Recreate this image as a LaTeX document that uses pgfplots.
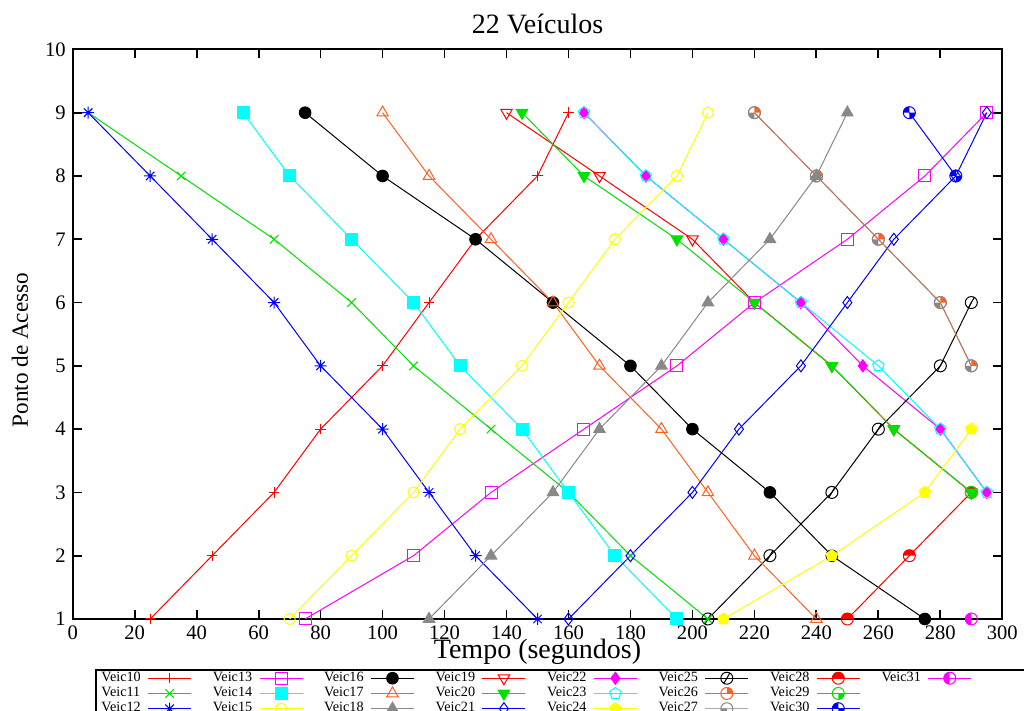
\documentclass[border=0pt]{standalone}
\usepackage{fontspec}
\setmainfont{Liberation Serif}
\usepackage{pgfplots}
\pgfplotsset{compat=1.18}

\definecolor{gpred}{RGB}{255,0,0}
\definecolor{gpgreen}{RGB}{0,225,0}
\definecolor{gpblue}{RGB}{0,0,255}
\definecolor{gpmagenta}{RGB}{255,0,255}
\definecolor{gpcyan}{RGB}{0,255,255}
\definecolor{gpyellow}{RGB}{255,255,0}
\definecolor{gporange}{RGB}{255,96,32}
\definecolor{gpgray}{RGB}{136,136,136}

\pgfdeclareplotmark{plusx}{%
  \pgfpathmoveto{\pgfqpoint{-\pgfplotmarksize}{0pt}}\pgfpathlineto{\pgfqpoint{\pgfplotmarksize}{0pt}}%
  \pgfpathmoveto{\pgfqpoint{0pt}{-\pgfplotmarksize}}\pgfpathlineto{\pgfqpoint{0pt}{\pgfplotmarksize}}%
  \pgfpathmoveto{\pgfqpoint{-.707\pgfplotmarksize}{-.707\pgfplotmarksize}}\pgfpathlineto{\pgfqpoint{.707\pgfplotmarksize}{.707\pgfplotmarksize}}%
  \pgfpathmoveto{\pgfqpoint{-.707\pgfplotmarksize}{.707\pgfplotmarksize}}\pgfpathlineto{\pgfqpoint{.707\pgfplotmarksize}{-.707\pgfplotmarksize}}%
  \pgfusepathqstroke}
\pgfdeclareplotmark{cslash}{%
  \pgfpathcircle{\pgfpointorigin}{\pgfplotmarksize}%
  \pgfpathmoveto{\pgfqpoint{-.5\pgfplotmarksize}{-.866\pgfplotmarksize}}\pgfpathlineto{\pgfqpoint{.5\pgfplotmarksize}{.866\pgfplotmarksize}}%
  \pgfusepathqstroke}
\pgfdeclareplotmark{cqtr}{% top-right quarter filled
  \pgfpathmoveto{\pgfpointorigin}\pgfpathlineto{\pgfqpoint{\pgfplotmarksize}{0pt}}%
  \pgfpatharc{0}{90}{\pgfplotmarksize}\pgfpathclose\pgfusepathqfill
  \pgfpathcircle{\pgfpointorigin}{\pgfplotmarksize}\pgfusepathqstroke}
\pgfdeclareplotmark{cqbl}{% bottom-left quarter filled
  \pgfpathmoveto{\pgfpointorigin}\pgfpathlineto{\pgfqpoint{-\pgfplotmarksize}{0pt}}%
  \pgfpatharc{180}{270}{\pgfplotmarksize}\pgfpathclose\pgfusepathqfill
  \pgfpathcircle{\pgfpointorigin}{\pgfplotmarksize}\pgfusepathqstroke}
\pgfdeclareplotmark{cqbr}{% bottom-right quarter filled
  \pgfpathmoveto{\pgfpointorigin}\pgfpathlineto{\pgfqpoint{0pt}{-\pgfplotmarksize}}%
  \pgfpatharc{270}{360}{\pgfplotmarksize}\pgfpathclose\pgfusepathqfill
  \pgfpathcircle{\pgfpointorigin}{\pgfplotmarksize}\pgfusepathqstroke}
\pgfdeclareplotmark{ctop}{% top half filled
  \pgfpathmoveto{\pgfqpoint{\pgfplotmarksize}{0pt}}%
  \pgfpatharc{0}{180}{\pgfplotmarksize}\pgfpathclose\pgfusepathqfill
  \pgfpathcircle{\pgfpointorigin}{\pgfplotmarksize}\pgfusepathqstroke}
\pgfdeclareplotmark{cleft}{% left half filled
  \pgfpathmoveto{\pgfqpoint{0pt}{\pgfplotmarksize}}%
  \pgfpatharc{90}{270}{\pgfplotmarksize}\pgfpathclose\pgfusepathqfill
  \pgfpathcircle{\pgfpointorigin}{\pgfplotmarksize}\pgfusepathqstroke}
\pgfdeclareplotmark{ctwo}{% top-left and bottom-right quarters filled
  \pgfpathmoveto{\pgfpointorigin}\pgfpathlineto{\pgfqpoint{0pt}{\pgfplotmarksize}}%
  \pgfpatharc{90}{180}{\pgfplotmarksize}\pgfpathclose
  \pgfpathmoveto{\pgfpointorigin}\pgfpathlineto{\pgfqpoint{0pt}{-\pgfplotmarksize}}%
  \pgfpatharc{270}{360}{\pgfplotmarksize}\pgfpathclose\pgfusepathqfill
  \pgfpathcircle{\pgfpointorigin}{\pgfplotmarksize}\pgfusepathqstroke}

\begin{document}
\begin{tikzpicture}
\begin{axis}[
  scale only axis, width=464.8pt, height=284.8pt,
  xmin=0, xmax=300, ymin=1, ymax=10,
  xtick={0,20,...,300}, ytick={1,2,...,10},
  tick align=inside, major tick length=4.5pt,
  axis line style={line width=1pt},
  every tick/.style={black, line width=0.9pt},
  tick label style={font=\fontsize{10.3}{12}\selectfont},
  /pgf/number format/assume math mode=true,
  title={22 Veículos},
  every axis title shift=0pt,
  title style={at={(axis description cs:0.5,1.0288)}, anchor=base, font=\fontsize{14}{16}\selectfont},
  xlabel={Tempo (segundos)},
  xlabel style={at={(axis description cs:0.5,-0.0695)}, anchor=base, font=\fontsize{14}{16}\selectfont},
  ylabel={Ponto de Acesso},
  ylabel style={at={(axis description cs:-0.0481,0.472)}, anchor=base, rotate=0, font=\fontsize{11.6}{14}\selectfont},
  every axis plot/.append style={line width=0.5pt, mark size=3pt, mark options={solid}},
  legend columns=8, legend cell align=left, legend plot pos=right,
  legend style={at={(axis description cs:0.0235,-0.0878)}, anchor=north west,
     draw=black, line width=1pt, inner sep=0.5pt, row sep=0.4pt,
     nodes={inner xsep=2.4pt, inner ysep=0.5pt},
     font=\fontsize{7.1}{8}\selectfont,
     /tikz/every even column/.append style={column sep=8.2pt},
     /tikz/every odd column/.append style={column sep=1pt}},
  legend image code/.code={\draw[line width=0.5pt, mark repeat=2, mark phase=2] plot coordinates {(0cm,0cm) (0.378cm,0cm) (0.756cm,0cm)};},
]
% Veic10
\addplot[gpred, mark=+, mark size=2.6pt] coordinates {(25,1)(45,2)(65,3)(80,4)(100,5)(115,6)(130,7)(150,8)(160,9)};
\addlegendentry{Veic10}
% Veic13
\addplot[gpmagenta, mark=square] coordinates {(75,1)(110,2)(135,3)(165,4)(195,5)(220,6)(250,7)(275,8)(295,9)};
\addlegendentry{Veic13}
% Veic16
\addplot[black, mark=*, mark size=2.9pt] coordinates {(75,9)(100,8)(130,7)(155,6)(180,5)(200,4)(225,3)(245,2)(275,1)};
\addlegendentry{Veic16}
% Veic19
\addplot[gpred, mark=triangle, mark size=3.3pt, mark options={rotate=180}] coordinates {(140,9)(170,8)(200,7)(220,6)(245,5)(265,4)(290,3)};
\addlegendentry{Veic19}
% Veic22
\addplot[gpmagenta, mark=diamond*, mark size=3pt] coordinates {(165,9)(185,8)(210,7)(235,6)(255,5)(280,4)(295,3)};
\addlegendentry{Veic22}
% Veic25
\addplot[black, mark=cslash, mark size=3pt] coordinates {(205,1)(225,2)(245,3)(260,4)(280,5)(290,6)};
\addlegendentry{Veic25}
% Veic28
\addplot[gpred, mark=ctop, mark size=3pt] coordinates {(250,1)(270,2)(290,3)};
\addlegendentry{Veic28}
% Veic31
\addplot[gpmagenta, mark=cleft, mark size=3pt,
  legend image code/.code={\draw[line width=0.5pt, mark repeat=2, mark phase=2] plot coordinates {(0cm,0cm) (0.378cm,0cm) (0.756cm,0cm)}; \path[draw=none] (0.756cm,0cm) -- (2.6cm,0cm);}] coordinates {(290,1)};
\addlegendentry{Veic31}
% Veic11
\addplot[gpgreen, mark=x, mark size=3pt] coordinates {(5,9)(35,8)(65,7)(90,6)(110,5)(135,4)(160,3)(180,2)(205,1)};
\addlegendentry{Veic11}
% Veic14
\addplot[gpcyan, mark=square*, mark size=3pt] coordinates {(55,9)(70,8)(90,7)(110,6)(125,5)(145,4)(160,3)(175,2)(195,1)};
\addlegendentry{Veic14}
% Veic17
\addplot[gporange, mark=triangle, mark size=3.3pt] coordinates {(100,9)(115,8)(135,7)(155,6)(170,5)(190,4)(205,3)(220,2)(240,1)};
\addlegendentry{Veic17}
% Veic20
\addplot[gpgreen, mark=triangle*, mark size=3.3pt, mark options={rotate=180}] coordinates {(145,9)(165,8)(195,7)(220,6)(245,5)(265,4)(290,3)};
\addlegendentry{Veic20}
% Veic23
\addplot[gpcyan, mark=pentagon, mark size=3pt] coordinates {(165,9)(185,8)(210,7)(235,6)(260,5)(280,4)(295,3)};
\addlegendentry{Veic23}
% Veic26
\addplot[gporange, mark=cqtr, mark size=3pt] coordinates {(220,9)(240,8)(260,7)(280,6)(290,5)};
\addlegendentry{Veic26}
% Veic29
\addplot[gpgreen, mark=cqbr, mark size=3pt] coordinates {(290,3)};
\addlegendentry{Veic29}
\addlegendimage{empty legend}
\addlegendentry{}
% Veic12
\addplot[gpblue, mark=plusx, mark size=3pt] coordinates {(5,9)(25,8)(45,7)(65,6)(80,5)(100,4)(115,3)(130,2)(150,1)};
\addlegendentry{Veic12}
% Veic15
\addplot[gpyellow, mark=o, mark size=2.8pt] coordinates {(70,1)(90,2)(110,3)(125,4)(145,5)(160,6)(175,7)(195,8)(205,9)};
\addlegendentry{Veic15}
% Veic18
\addplot[gpgray, mark=triangle*, mark size=3.3pt] coordinates {(115,1)(135,2)(155,3)(170,4)(190,5)(205,6)(225,7)(240,8)(250,9)};
\addlegendentry{Veic18}
% Veic21
\addplot[gpblue, mark=diamond, mark size=3pt] coordinates {(160,1)(180,2)(200,3)(215,4)(235,5)(250,6)(265,7)(285,8)(295,9)};
\addlegendentry{Veic21}
% Veic24
\addplot[gpyellow, mark=pentagon*, mark size=3pt] coordinates {(210,1)(245,2)(275,3)(290,4)};
\addlegendentry{Veic24}
% Veic27
\addplot[gpgray, draw opacity=0.7, mark=cqbl, mark size=3pt, mark options={draw opacity=1}] coordinates {(220,9)(240,8)(260,7)(280,6)(290,5)};
\addlegendentry{Veic27}
% Veic30
\addplot[gpblue, mark=ctwo, mark size=3pt] coordinates {(270,9)(285,8)};
\addlegendentry{Veic30}
\end{axis}
\pgfresetboundingbox
\path[use as bounding box] (-36.35pt,-46pt) rectangle (475.65pt,309.5pt);
\end{tikzpicture}
\end{document}
